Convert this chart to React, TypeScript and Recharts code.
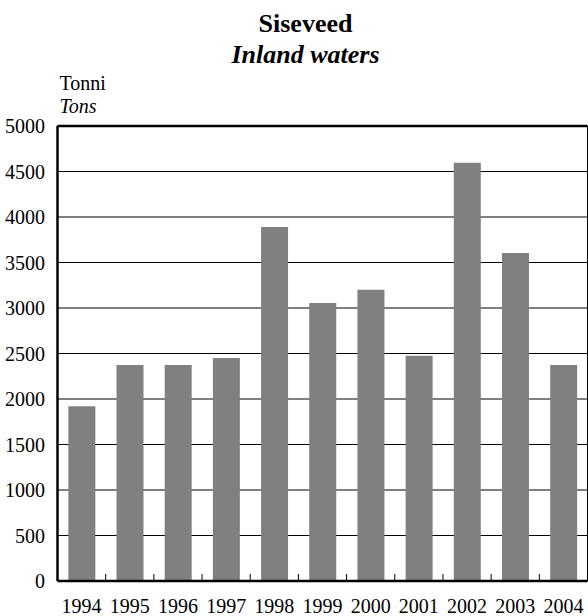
import React from "react";
import { BarChart, Bar, XAxis, YAxis, CartesianGrid, ReferenceLine } from "recharts";

const years = ["1994", "1995", "1996", "1997", "1998", "1999", "2000", "2001", "2002", "2003", "2004"];
const tons = [1920, 2375, 2375, 2450, 3890, 3055, 3200, 2475, 4595, 3605, 2375];
const yTicks = [0, 500, 1000, 1500, 2000, 2500, 3000, 3500, 4000, 4500, 5000];

const titleMain = "Siseveed";
const titleSub = "Inland waters";
const unitMain = "Tonni";
const unitSub = "Tons";

const data = years.map((y, i) => ({ year: y, value: tons[i] }));

const W = 588;
const H = 616;
const PLOT_LEFT = 57.5;
const PLOT_RIGHT = 587.5;
const PLOT_TOP = 126;
const PLOT_BOTTOM = 581;
const FONT = "'Liberation Serif', 'Times New Roman', serif";

const XTick = (props: any) => {
  const { x, index } = props;
  const step = (PLOT_RIGHT - PLOT_LEFT) / years.length;
  const label = props.payload.value;
  return (
    <g>
      {index < years.length - 1 && (
        <line x1={x + step / 2} x2={x + step / 2} y1={PLOT_BOTTOM} y2={PLOT_BOTTOM - 7} stroke="#000" strokeWidth={1} />
      )}
      <text x={x} y={PLOT_BOTTOM + 32} textAnchor="middle" fontFamily={FONT} fontSize={20} fill="#000">
        {label}
      </text>
    </g>
  );
};

const YTick = (props: any) => {
  const { y, payload } = props;
  return (
    <text x={45} y={y + 7} textAnchor="end" fontFamily={FONT} fontSize={20} fill="#000">
      {payload.value}
    </text>
  );
};

export default function App() {
  return (
    <div style={{ position: "absolute", left: 0, top: 0, width: W, height: H, background: "#fff" }}>
      <BarChart
        width={W}
        height={H}
        data={data}
        margin={{ top: PLOT_TOP, right: W - PLOT_RIGHT, bottom: 0, left: 0 }}
        barCategoryGap="22.5%"
      >
        <CartesianGrid vertical={false} stroke="#000" strokeWidth={1} />
        <XAxis
          dataKey="year"
          height={H - PLOT_BOTTOM}
          axisLine={{ stroke: "#000", strokeWidth: 2.5 }}
          tickLine={false}
          tick={<XTick />}
          interval={0}
        />
        <YAxis
          width={PLOT_LEFT}
          domain={[0, 5000]}
          ticks={yTicks}
          interval={0}
          axisLine={{ stroke: "#000", strokeWidth: 2.5 }}
          tickLine={false}
          tick={<YTick />}
        />
        <Bar dataKey="value" fill="#808080" isAnimationActive={false} />
        <ReferenceLine y={5000} stroke="#000" strokeWidth={2.5} />
      </BarChart>
      <svg width={W} height={H} style={{ position: "absolute", left: 0, top: 0, pointerEvents: "none" }}>
        <line x1={PLOT_RIGHT} x2={PLOT_RIGHT} y1={PLOT_TOP} y2={PLOT_BOTTOM} stroke="#000" strokeWidth={1} />
        <text x={305.5} y={31.7} textAnchor="middle" fontFamily={FONT} fontSize={26} fontWeight="bold" fill="#000">
          {titleMain}
        </text>
        <text x={305.5} y={63} textAnchor="middle" fontFamily={FONT} fontSize={26} fontWeight="bold" fontStyle="italic" fill="#000">
          {titleSub}
        </text>
        <text x={59.5} y={90} fontFamily={FONT} fontSize={20} fill="#000">
          {unitMain}
        </text>
        <text x={59.5} y={113} fontFamily={FONT} fontSize={20} fontStyle="italic" fill="#000">
          {unitSub}
        </text>
      </svg>
    </div>
  );
}
